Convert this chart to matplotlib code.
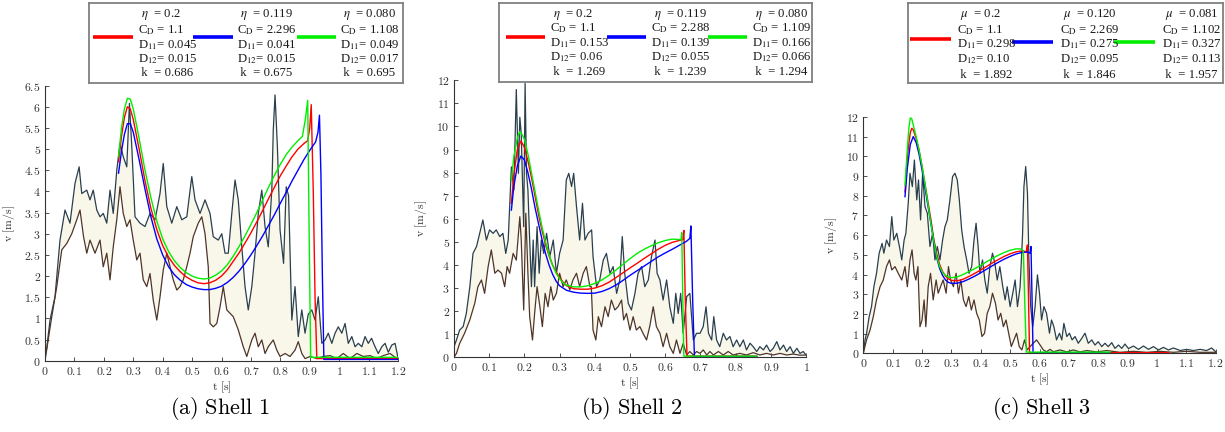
import matplotlib
matplotlib.use("Agg")
import matplotlib.pyplot as plt

plt.rcParams["mathtext.fontset"] = "cm"
plt.rcParams["font.family"] = ["DejaVu Serif"]

W, H = 1225, 432

# ---------------- Shell 1 ----------------
s1_up_t = [0.0, 0.006, 0.017, 0.034, 0.051, 0.068, 0.085, 0.102, 0.116, 0.125,
           0.142, 0.153, 0.164, 0.176, 0.187, 0.198, 0.21, 0.221, 0.232, 0.244,
           0.255, 0.266, 0.278, 0.287, 0.295, 0.306, 0.323, 0.34, 0.357, 0.374,
           0.391, 0.402, 0.414, 0.431, 0.448, 0.465, 0.482, 0.499, 0.51, 0.527,
           0.544, 0.561, 0.572, 0.589, 0.601, 0.612, 0.623, 0.635, 0.646, 0.657,
           0.669, 0.68, 0.691, 0.703, 0.714, 0.725, 0.737, 0.748, 0.759, 0.771,
           0.776, 0.782, 0.79, 0.799, 0.811, 0.82, 0.828, 0.839, 0.85, 0.861,
           0.873, 0.884, 0.895, 0.907, 0.918, 0.929, 0.941, 0.952, 0.963, 0.975,
           0.986, 0.997, 1.009, 1.02, 1.031, 1.043, 1.054, 1.065, 1.077, 1.088,
           1.099, 1.11, 1.122, 1.133, 1.145, 1.156, 1.167, 1.179, 1.19, 1.2]
s1_up_v = [0.1, 0.3, 0.96, 1.51, 2.85, 3.56, 3.25, 4.19, 4.58, 3.95,
           4.03, 3.8, 4.03, 3.56, 3.4, 3.48, 3.25, 4.03, 3.48, 4.5,
           5.14, 4.82, 4.58, 6.08, 5.06, 3.4, 3.25, 3.17, 3.48, 3.33,
           3.95, 4.66, 3.64, 3.25, 3.64, 3.33, 3.4, 4.35, 3.8, 3.48,
           3.8, 3.48, 2.93, 2.85, 3.0, 2.54, 2.54, 3.48, 4.27, 3.8,
           2.69, 1.75, 1.2, 1.75, 2.54, 3.48, 4.03, 3.17, 2.69, 4.03,
           5.45, 6.28, 5.06, 3.09, 2.3, 4.11, 3.9, 0.96, 1.75, 0.57,
           1.2, 0.65, 1.1, 1.2, 0.96, 1.51, 0.41, 0.49, 0.65, 0.41,
           0.65, 0.8, 0.65, 0.88, 0.41, 0.57, 0.33, 0.41, 0.33, 0.57,
           0.41, 0.53, 0.33, 0.17, 0.33, 0.41, 0.2, 0.37, 0.41, 0.07]
s1_low_t = [0.0, 0.023, 0.04, 0.057, 0.074, 0.091, 0.108, 0.119, 0.131, 0.142,
            0.153, 0.17, 0.187, 0.198, 0.21, 0.221, 0.232, 0.244, 0.255, 0.266,
            0.278, 0.289, 0.3, 0.312, 0.323, 0.334, 0.346, 0.357, 0.368, 0.38,
            0.391, 0.402, 0.414, 0.425, 0.436, 0.448, 0.459, 0.47, 0.482, 0.493,
            0.504, 0.521, 0.533, 0.544, 0.555, 0.561, 0.572, 0.584, 0.595, 0.606,
            0.618, 0.64, 0.657, 0.674, 0.686, 0.703, 0.714, 0.725, 0.737, 0.748,
            0.759, 0.776, 0.788, 0.799, 0.816, 0.833, 0.85, 0.861, 0.873, 0.884,
            0.901, 0.924, 0.946, 0.969, 0.992, 1.014, 1.037, 1.06, 1.082, 1.105,
            1.128, 1.15, 1.173, 1.196]
s1_low_v = [0.0, 1.04, 1.75, 2.62, 2.77, 3.0, 3.33, 3.56, 2.93, 2.54,
            2.85, 2.54, 2.85, 2.22, 2.54, 1.91, 2.69, 3.33, 4.11, 3.48,
            3.17, 3.33, 2.85, 2.38, 2.54, 1.91, 1.75, 2.06, 1.43, 0.96,
            1.51, 2.14, 2.54, 2.22, 1.91, 1.67, 1.75, 1.91, 2.22, 2.54,
            2.93, 3.25, 3.4, 3.0, 2.22, 0.88, 0.8, 0.88, 1.27, 1.75,
            1.2, 1.04, 0.73, 0.33, 0.1, 0.49, 0.65, 0.33, 0.49, 0.17,
            0.33, 0.49, 0.25, 0.1, 0.17, 0.1, 0.25, 0.45, 0.17, 0.05,
            0.1, 0.05, 0.1, 0.12, 0.05, 0.17, 0.05, 0.17, 0.1, 0.12,
            0.05, 0.12, 0.17, 0.05]
s1_red_t = [0.25, 0.26, 0.27, 0.28, 0.29, 0.30, 0.32, 0.34, 0.36, 0.38,
            0.40, 0.42, 0.44, 0.46, 0.48, 0.50, 0.52, 0.54, 0.56, 0.58,
            0.60, 0.62, 0.64, 0.66, 0.68, 0.70, 0.72, 0.74, 0.76, 0.78,
            0.80, 0.82, 0.84, 0.86, 0.88, 0.893, 0.9, 0.905, 0.912, 0.918,
            0.924, 1.2]
s1_red_v = [4.7, 5.3, 5.75, 6.0, 5.95, 5.7, 5.0, 4.25, 3.6, 3.1,
            2.72, 2.45, 2.25, 2.1, 1.98, 1.9, 1.84, 1.82, 1.84, 1.9,
            2.0, 2.15, 2.35, 2.55, 2.78, 3.02, 3.28, 3.55, 3.83, 4.1,
            4.37, 4.6, 4.82, 5.0, 5.13, 5.2, 5.5, 6.05, 4.0, 1.5,
            0.05, 0.05]
s1_blue_t = [0.25, 0.26, 0.27, 0.28, 0.29, 0.30, 0.32, 0.34, 0.36, 0.38,
             0.40, 0.42, 0.44, 0.46, 0.48, 0.50, 0.52, 0.54, 0.56, 0.58,
             0.60, 0.62, 0.64, 0.66, 0.68, 0.70, 0.72, 0.74, 0.76, 0.78,
             0.80, 0.82, 0.84, 0.86, 0.88, 0.90, 0.92, 0.928, 0.933, 0.938,
             0.943, 0.948, 1.2]
s1_blue_v = [4.43, 4.95, 5.35, 5.6, 5.6, 5.4, 4.75, 4.05, 3.4, 2.88,
             2.5, 2.22, 2.03, 1.9, 1.8, 1.74, 1.7, 1.68, 1.68, 1.71,
             1.76, 1.85, 1.97, 2.12, 2.3, 2.5, 2.72, 2.95, 3.2, 3.45,
             3.72, 3.98, 4.25, 4.5, 4.75, 4.97, 5.17, 5.4, 5.8, 4.4,
             2.0, 0.03, 0.03]
s1_green_t = [0.25, 0.26, 0.27, 0.28, 0.29, 0.30, 0.32, 0.34, 0.36, 0.38,
              0.40, 0.42, 0.44, 0.46, 0.48, 0.50, 0.52, 0.54, 0.56, 0.58,
              0.60, 0.62, 0.64, 0.66, 0.68, 0.70, 0.72, 0.74, 0.76, 0.78,
              0.80, 0.82, 0.84, 0.86, 0.875, 0.885, 0.893, 0.898, 0.903, 1.2]
s1_green_v = [4.82, 5.5, 5.95, 6.2, 6.18, 5.95, 5.25, 4.5, 3.85, 3.3,
              2.88, 2.58, 2.36, 2.2, 2.08, 2.0, 1.95, 1.93, 1.95, 2.02,
              2.12, 2.27, 2.47, 2.7, 2.95, 3.22, 3.5, 3.8, 4.1, 4.38,
              4.64, 4.87, 5.05, 5.2, 5.3, 5.7, 6.15, 3.0, 0.08, 0.08]

# ---------------- Shell 2 ----------------
s2_up_t = [0, 0.007, 0.016, 0.026, 0.035, 0.045, 0.054, 0.064, 0.073, 0.082,
           0.092, 0.101, 0.111, 0.12, 0.13, 0.139, 0.147, 0.154, 0.163, 0.17,
           0.177, 0.183, 0.187, 0.191, 0.198, 0.202, 0.206, 0.21, 0.215, 0.22,
           0.225, 0.229, 0.236, 0.242, 0.248, 0.255, 0.263, 0.272, 0.282, 0.291,
           0.3, 0.31, 0.319, 0.326, 0.334, 0.34, 0.348, 0.357, 0.365, 0.372,
           0.381, 0.391, 0.395, 0.405, 0.414, 0.424, 0.433, 0.443, 0.452, 0.462,
           0.471, 0.478, 0.485, 0.495, 0.504, 0.514, 0.523, 0.533, 0.542, 0.552,
           0.561, 0.571, 0.577, 0.585, 0.594, 0.604, 0.613, 0.623, 0.63, 0.637,
           0.644, 0.651, 0.661, 0.67, 0.68, 0.689, 0.699, 0.708, 0.716, 0.723,
           0.732, 0.738, 0.746, 0.755, 0.765, 0.774, 0.784, 0.793, 0.803, 0.812,
           0.822, 0.831, 0.841, 0.85, 0.86, 0.869, 0.879, 0.888, 0.898, 0.907,
           0.917, 0.926, 0.936, 0.945, 0.955, 0.964, 0.974, 0.983, 0.992, 1.0]
s2_up_v = [0.46, 0.75, 1.18, 1.33, 1.9, 3.06, 4.5, 4.8, 5.37, 5.95,
           5.08, 5.52, 5.37, 5.52, 5.23, 5.37, 4.5, 5.08, 8.25, 7.25,
           11.6, 7.97, 10.4, 9.7, 5.66, 11.87, 7.97, 7.25, 5.08, 3.06,
           5.08, 3.06, 5.66, 3.64, 5.08, 4.5, 5.37, 4.36, 5.08, 3.64,
           4.5, 5.08, 7.68, 7.97, 7.4, 7.97, 6.53, 5.08, 6.67, 5.08,
           5.37, 5.52, 4.36, 3.06, 3.35, 4.21, 4.5, 3.64, 3.93, 2.77,
           3.35, 5.23, 3.64, 2.34, 2.05, 2.77, 3.64, 3.93, 3.06, 3.35,
           4.36, 5.08, 3.64, 3.35, 2.48, 3.35, 2.19, 1.47, 2.77, 1.9,
           2.77, 1.04, 2.63, 2.77, 0.75, 1.04, 1.04, 1.33, 2.19, 1.04,
           0.75, 1.76, 0.75, 0.46, 1.04, 0.75, 0.9, 0.46, 0.75, 0.46,
           0.75, 0.32, 0.61, 0.46, 0.25, 0.46, 0.32, 0.53, 0.25, 0.39,
           0.68, 0.32, 0.53, 0.25, 0.46, 0.17, 0.39, 0.17, 0.25, 0.1]
s2_low_t = [0, 0.007, 0.016, 0.03, 0.045, 0.059, 0.068, 0.078, 0.087, 0.097,
            0.106, 0.116, 0.125, 0.135, 0.144, 0.151, 0.158, 0.168, 0.177, 0.187,
            0.191, 0.198, 0.204, 0.21, 0.215, 0.223, 0.229, 0.236, 0.244, 0.251,
            0.259, 0.267, 0.275, 0.282, 0.291, 0.3, 0.31, 0.319, 0.329, 0.338,
            0.348, 0.357, 0.367, 0.376, 0.386, 0.39, 0.395, 0.403, 0.41, 0.419,
            0.429, 0.438, 0.447, 0.457, 0.466, 0.476, 0.482, 0.49, 0.5, 0.509,
            0.518, 0.528, 0.537, 0.547, 0.556, 0.566, 0.575, 0.585, 0.594, 0.604,
            0.613, 0.623, 0.632, 0.642, 0.651, 0.661, 0.67, 0.68, 0.689, 0.699,
            0.708, 0.718, 0.727, 0.737, 0.751, 0.765, 0.779, 0.793, 0.812, 0.831,
            0.85, 0.869, 0.888, 0.907, 0.926, 0.945, 0.964, 0.983, 1.0]
s2_low_v = [0, 0.17, 0.6, 1.04, 1.62, 2.34, 3.06, 3.35, 2.77, 3.93,
            4.65, 3.64, 3.78, 3.64, 3.06, 3.93, 3.64, 4.5, 4.21, 6.09,
            5.08, 2.05, 6.24, 3.64, 1.76, 0.75, 1.9, 3.06, 2.19, 1.33,
            2.77, 2.19, 3.06, 2.48, 2.77, 3.64, 3.06, 3.35, 2.92, 3.35,
            3.64, 3.06, 3.64, 3.93, 3.06, 3.06, 1.18, 0.75, 1.76, 1.33,
            2.19, 1.76, 2.48, 2.05, 2.19, 2.48, 1.62, 1.9, 1.18, 1.76,
            1.18, 1.33, 1.04, 0.75, 1.33, 2.19, 1.33, 1.04, 0.46, 1.04,
            0.46, 0.17, 0.75, 0.17, 0.6, 0.1, 0.25, 0.1, 0.25, 0.17,
            0.32, 0.1, 0.25, 0.1, 0.25, 0.1, 0.25, 0.1, 0.17, 0.1,
            0.2, 0.1, 0.17, 0.1, 0.17, 0.1, 0.14, 0.09, 0.1]
s2_red_t = [0.163, 0.17, 0.18, 0.19, 0.20, 0.21, 0.22, 0.23, 0.24, 0.25,
            0.26, 0.27, 0.28, 0.29, 0.30, 0.31, 0.32, 0.34, 0.36, 0.38,
            0.40, 0.42, 0.44, 0.46, 0.48, 0.50, 0.52, 0.54, 0.56, 0.58,
            0.60, 0.62, 0.64, 0.65, 0.653, 0.657, 0.662, 0.86]
s2_red_v = [6.67, 7.9, 9.0, 9.37, 9.1, 8.5, 7.8, 7.0, 6.2, 5.5,
            4.9, 4.4, 4.0, 3.7, 3.45, 3.25, 3.1, 2.97, 2.95, 2.95,
            3.0, 3.1, 3.25, 3.45, 3.66, 3.87, 4.07, 4.28, 4.48, 4.68,
            4.85, 4.98, 5.06, 5.1, 5.5, 2.5, 0.05, 0.05]
s2_blue_t = [0.163, 0.17, 0.18, 0.19, 0.20, 0.21, 0.22, 0.23, 0.24, 0.25,
             0.26, 0.27, 0.28, 0.29, 0.30, 0.32, 0.34, 0.36, 0.38, 0.40,
             0.42, 0.44, 0.46, 0.48, 0.50, 0.52, 0.54, 0.56, 0.58, 0.60,
             0.62, 0.64, 0.66, 0.67, 0.673, 0.678, 0.683, 0.86]
s2_blue_v = [6.38, 7.4, 8.3, 8.72, 8.55, 8.0, 7.3, 6.5, 5.8, 5.1,
             4.5, 4.0, 3.6, 3.3, 3.1, 2.9, 2.82, 2.78, 2.77, 2.78,
             2.85, 2.97, 3.13, 3.33, 3.55, 3.75, 3.95, 4.15, 4.35, 4.52,
             4.68, 4.85, 5.02, 5.15, 5.69, 2.5, 0.03, 0.03]
s2_green_t = [0.163, 0.17, 0.18, 0.187, 0.19, 0.20, 0.21, 0.22, 0.23, 0.24,
              0.25, 0.26, 0.27, 0.28, 0.29, 0.30, 0.31, 0.32, 0.34, 0.36,
              0.38, 0.40, 0.42, 0.44, 0.46, 0.48, 0.50, 0.52, 0.54, 0.56,
              0.58, 0.60, 0.62, 0.64, 0.645, 0.647, 0.65, 0.653, 0.86]
s2_green_v = [7.68, 8.7, 9.5, 9.78, 9.75, 9.45, 8.8, 8.0, 7.2, 6.4,
              5.65, 5.0, 4.45, 4.0, 3.65, 3.4, 3.22, 3.12, 3.05, 3.05,
              3.1, 3.2, 3.35, 3.55, 3.78, 4.03, 4.27, 4.5, 4.68, 4.83,
              4.96, 5.06, 5.12, 5.1, 5.1, 5.4, 2.5, 0.05, 0.05]

# ---------------- Shell 3 ----------------
s3_up_t = [0, 0.006, 0.011, 0.02, 0.028, 0.036, 0.045, 0.054, 0.064, 0.07,
           0.079, 0.089, 0.097, 0.104, 0.114, 0.123, 0.131, 0.139, 0.145, 0.153,
           0.159, 0.167, 0.174, 0.182, 0.188, 0.195, 0.202, 0.21, 0.218, 0.227,
           0.236, 0.244, 0.252, 0.261, 0.27, 0.278, 0.286, 0.295, 0.304, 0.312,
           0.32, 0.327, 0.335, 0.343, 0.352, 0.36, 0.369, 0.377, 0.384, 0.391,
           0.397, 0.406, 0.414, 0.422, 0.431, 0.44, 0.448, 0.456, 0.465, 0.475,
           0.483, 0.49, 0.5, 0.509, 0.517, 0.525, 0.534, 0.542, 0.547, 0.553,
           0.559, 0.564, 0.57, 0.577, 0.585, 0.593, 0.6, 0.607, 0.615, 0.624,
           0.634, 0.641, 0.649, 0.658, 0.668, 0.676, 0.683, 0.693, 0.702, 0.711,
           0.721, 0.732, 0.744, 0.755, 0.766, 0.778, 0.789, 0.8, 0.812, 0.823,
           0.834, 0.846, 0.857, 0.869, 0.88, 0.891, 0.903, 0.92, 0.937, 0.954,
           0.971, 0.988, 1.005, 1.022, 1.039, 1.056, 1.079, 1.101, 1.124, 1.147,
           1.169, 1.186, 1.2]
s3_up_v = [0, 0.68, 1.0, 1.86, 2.37, 3.38, 4.06, 5.08, 5.58, 5.08,
           5.75, 5.42, 6.94, 5.75, 6.09, 5.42, 4.74, 5.75, 6.09, 7.62,
           9.14, 8.46, 9.81, 7.79, 8.8, 6.77, 9.14, 7.45, 7.11, 5.42,
           6.09, 4.74, 5.42, 4.74, 5.75, 6.43, 6.77, 7.79, 8.97, 9.14,
           8.8, 7.79, 6.26, 5.42, 4.74, 4.06, 4.4, 5.75, 6.6, 5.42,
           4.06, 4.74, 3.72, 3.05, 4.4, 5.08, 4.57, 3.72, 4.4, 3.38,
           2.71, 3.38, 2.37, 3.05, 3.72, 2.37, 3.38, 5.92, 8.46, 9.48,
           8.12, 4.74, 2.37, 1.35, 2.37, 3.98, 3.05, 1.69, 2.37, 2.03,
           1.02, 1.69, 1.35, 0.68, 1.02, 0.68, 1.52, 0.85, 1.02, 0.68,
           0.85, 0.51, 0.76, 1.02, 0.51, 0.68, 0.42, 0.59, 0.34, 0.51,
           0.34, 0.54, 0.25, 0.42, 0.25, 0.47, 0.24, 0.37, 0.2, 0.37,
           0.2, 0.34, 0.17, 0.3, 0.17, 0.27, 0.14, 0.2, 0.14, 0.2,
           0.14, 0.27, 0.08]
s3_low_t = [0, 0.011, 0.023, 0.034, 0.045, 0.057, 0.068, 0.079, 0.089, 0.097,
            0.108, 0.119, 0.131, 0.142, 0.15, 0.159, 0.166, 0.173, 0.179, 0.186,
            0.193, 0.2, 0.207, 0.213, 0.221, 0.229, 0.238, 0.248, 0.255, 0.263,
            0.272, 0.282, 0.29, 0.297, 0.307, 0.316, 0.324, 0.332, 0.341, 0.35,
            0.359, 0.368, 0.377, 0.386, 0.395, 0.404, 0.413, 0.422, 0.431, 0.44,
            0.45, 0.459, 0.468, 0.477, 0.486, 0.495, 0.504, 0.513, 0.522, 0.531,
            0.54, 0.549, 0.558, 0.568, 0.579, 0.59, 0.602, 0.613, 0.624, 0.636,
            0.647, 0.67, 0.693, 0.715, 0.738, 0.761, 0.795, 0.829, 0.874, 0.92,
            0.965, 1.01, 1.056, 1.101, 1.147, 1.2]
s3_low_v = [0, 0.68, 1.18, 1.86, 2.71, 3.38, 3.72, 4.4, 4.74, 4.23,
            4.4, 4.06, 3.72, 4.4, 3.38, 4.74, 5.25, 4.06, 3.72, 4.4,
            1.35, 1.69, 2.71, 1.35, 3.38, 4.06, 2.71, 3.72, 3.05, 3.38,
            3.72, 3.05, 4.4, 3.72, 3.38, 4.06, 3.05, 3.72, 2.71, 2.37,
            2.88, 2.2, 2.71, 2.03, 1.69, 0.85, 1.02, 2.03, 2.37, 3.05,
            2.54, 1.69, 2.03, 1.35, 1.69, 1.02, 0.34, 0.68, 1.02, 0.34,
            0.17, 0.68, 0.17, 0.34, 0.51, 0.68, 0.42, 0.17, 0.08, 0.2,
            0.08, 0.17, 0.07, 0.17, 0.07, 0.14, 0.07, 0.14, 0.05, 0.1,
            0.05, 0.1, 0.05, 0.1, 0.05, 0.05]
s3_red_t = [0.142, 0.15, 0.16, 0.165, 0.17, 0.18, 0.19, 0.20, 0.21, 0.22,
            0.23, 0.24, 0.25, 0.26, 0.27, 0.28, 0.29, 0.30, 0.32, 0.34,
            0.36, 0.38, 0.40, 0.42, 0.44, 0.46, 0.48, 0.50, 0.52, 0.54,
            0.555, 0.559, 0.563, 0.566, 1.04]
s3_red_v = [8.2, 10.0, 11.2, 11.42, 11.35, 10.9, 10.3, 9.5, 8.6, 7.7,
            6.8, 5.8, 5.05, 4.5, 4.15, 3.92, 3.78, 3.7, 3.68, 3.76,
            3.9, 4.06, 4.23, 4.41, 4.59, 4.76, 4.92, 5.05, 5.15, 5.2,
            5.15, 5.5, 2.5, 0.03, 0.03]
s3_blue_t = [0.142, 0.15, 0.16, 0.17, 0.18, 0.19, 0.20, 0.21, 0.22, 0.23,
             0.24, 0.25, 0.26, 0.27, 0.28, 0.29, 0.30, 0.32, 0.34, 0.36,
             0.38, 0.40, 0.42, 0.44, 0.46, 0.48, 0.50, 0.52, 0.54, 0.56,
             0.568, 0.571, 0.575, 0.578, 0.84]
s3_blue_v = [7.95, 9.4, 10.6, 11.0, 10.7, 10.1, 9.3, 8.4, 7.5, 6.6,
             5.7, 4.85, 4.3, 3.95, 3.72, 3.6, 3.55, 3.56, 3.64, 3.77,
             3.92, 4.09, 4.27, 4.45, 4.62, 4.78, 4.92, 5.04, 5.12, 5.14,
             5.08, 5.42, 2.5, 0.03, 0.03]
s3_green_t = [0.142, 0.15, 0.155, 0.16, 0.165, 0.17, 0.18, 0.19, 0.20, 0.21,
              0.22, 0.23, 0.24, 0.25, 0.26, 0.27, 0.28, 0.29, 0.30, 0.32,
              0.34, 0.36, 0.38, 0.40, 0.42, 0.44, 0.46, 0.48, 0.50, 0.52,
              0.535, 0.545, 0.55, 0.555, 0.84]
s3_green_v = [8.55, 10.4, 11.4, 11.95, 11.9, 11.6, 11.0, 10.3, 9.5, 8.6,
              7.6, 6.6, 5.7, 4.9, 4.4, 4.1, 3.95, 3.87, 3.84, 3.88,
              4.0, 4.15, 4.3, 4.47, 4.65, 4.82, 4.98, 5.12, 5.23, 5.3,
              5.3, 5.2, 2.5, 0.06, 0.06]

# legend entries: red, blue, green columns
param_names_eta = [r" $\eta$  = ", r"C$_{\mathrm{D}}$ = ", r"D$_{11}$= ", r"D$_{12}$= ", r" k  = "]
param_names_mu = [r" $\mu$  = ", r"C$_{\mathrm{D}}$ = ", r"D$_{11}$= ", r"D$_{12}$= ", r" k  = "]
s1_params = [["0.2", "1.1", "0.045", "0.015", "0.686"],
             ["0.119", "2.296", "0.041", "0.015", "0.675"],
             ["0.080", "1.108", "0.049", "0.017", "0.695"]]
s2_params = [["0.2", "1.1", "0.153", "0.06", "1.269"],
             ["0.119", "2.288", "0.139", "0.055", "1.239"],
             ["0.080", "1.109", "0.166", "0.066", "1.294"]]
s3_params = [["0.2", "1.1", "0.298", "0.10", "1.892"],
             ["0.120", "2.269", "0.275", "0.095", "1.846"],
             ["0.081", "1.102", "0.327", "0.113", "1.957"]]

captions = [r"$\mathrm{(a)\ Shell\ 1}$", r"$\mathrm{(b)\ Shell\ 2}$", r"$\mathrm{(c)\ Shell\ 3}$"]

UP_COLOR = "#2a3f4e"
LOW_COLOR = "#4f3528"
FILL_COLOR = "#f8f7ea"
MODEL_COLORS = ["#ff0000", "#0000ff", "#00ee00"]


def px_rect(x0, y0, x1, y1):
    return [x0 / W, 1 - y1 / H, (x1 - x0) / W, (y1 - y0) / H]


def draw_panel(fig, rect, up, low, models, xmax, ymax, ystep):
    ax = fig.add_axes(rect)
    # band between lower and upper envelope
    ax.fill(list(up[0]) + list(low[0][::-1]), list(up[1]) + list(low[1][::-1]),
            color=FILL_COLOR, lw=0, zorder=1)
    ax.plot(up[0], up[1], color=UP_COLOR, lw=0.9, zorder=2)
    ax.plot(low[0], low[1], color=LOW_COLOR, lw=0.9, zorder=2)
    for (t, v), c in zip(models, MODEL_COLORS):
        ax.plot(t, v, color=c, lw=1.0, zorder=3)

    ax.set_xlim(0, xmax)
    ax.set_ylim(0, ymax)
    n_x = int(round(xmax / 0.1))
    xt = [round(i * 0.1, 1) for i in range(n_x + 1)]
    n_y = int(round(ymax / ystep))
    yt = [round(i * ystep, 1) for i in range(n_y + 1)]
    ax.set_xticks(xt)
    ax.set_xticklabels([f"${x:g}$" for x in xt])
    ax.set_yticks(yt)
    ax.set_yticklabels([f"${y:g}$" for y in yt])
    ax.tick_params(direction="in", length=3, width=0.6, labelsize=8.5,
                   colors="#333333", pad=3)
    for side in ["top", "right"]:
        ax.spines[side].set_visible(False)
    for side in ["left", "bottom"]:
        ax.spines[side].set_color("#333333")
        ax.spines[side].set_linewidth(0.8)
    ax.set_xlabel(r"$\mathrm{t\ [s]}$", fontsize=8.5, labelpad=1, color="#333333")
    ax.set_ylabel(r"$\mathrm{v\ [m/s]}$", fontsize=8.5, labelpad=5, color="#333333")
    return ax


def draw_legend(fig, box, cols, rows_y, names, params):
    x0, y0, x1, y1 = box
    lax = fig.add_axes(px_rect(x0, y0, x1, y1))
    lax.set_xlim(x0, x1)
    lax.set_ylim(y1, y0)
    lax.set_xticks([])
    lax.set_yticks([])
    for s in lax.spines.values():
        s.set_color("#808080")
        s.set_linewidth(1.3)
    for (lx0, lx1, ly, tx), color, vals in zip(cols, MODEL_COLORS, params):
        lax.plot([lx0, lx1], [ly, ly], color=color, lw=2.6, solid_capstyle="butt")
        for y, name, val in zip(rows_y, names, vals):
            lax.text(tx, y, name + val, ha="left", va="center", fontsize=9.2,
                     family="Liberation Serif", math_fontfamily="stix", color="#1a1a1a")


fig = plt.figure(figsize=(W / 100, H / 100), dpi=100)

draw_panel(fig, px_rect(45, 85.6, 398, 360.7),
           (s1_up_t, s1_up_v), (s1_low_t, s1_low_v),
           [(s1_red_t, s1_red_v), (s1_blue_t, s1_blue_v), (s1_green_t, s1_green_v)],
           1.2, 6.5, 0.5)
draw_panel(fig, px_rect(454, 80.3, 806, 357.3),
           (s2_up_t, s2_up_v), (s2_low_t, s2_low_v),
           [(s2_red_t, s2_red_v), (s2_blue_t, s2_blue_v), (s2_green_t, s2_green_v)],
           1.0, 12, 1)
draw_panel(fig, px_rect(863.3, 116.9, 1215.7, 353.3),
           (s3_up_t, s3_up_v), (s3_low_t, s3_low_v),
           [(s3_red_t, s3_red_v), (s3_blue_t, s3_blue_v), (s3_green_t, s3_green_v)],
           1.2, 12, 1)

draw_legend(fig, (89, 3, 403, 83),
            [(93, 133, 37, 138), (193, 233, 37, 237), (297, 336, 37, 340)],
            [15, 30, 45, 59, 73], param_names_eta, s1_params)
draw_legend(fig, (499, 3, 812, 82),
            [(506, 545, 37, 550), (607, 646, 37, 651), (708, 747, 37, 752)],
            [14, 28, 43, 57, 72], param_names_eta, s2_params)
draw_legend(fig, (908, 3, 1223, 83),
            [(910, 951, 39, 957), (1012, 1053, 42, 1060), (1114, 1155, 42, 1162)],
            [15, 30, 44, 59, 75], param_names_mu, s3_params)

for xc, cap in zip([220, 632, 1042], captions):
    fig.text(xc / W, 1 - 408 / H, cap, ha="center", va="center", fontsize=16)

fig.savefig("out.png", dpi=100)
